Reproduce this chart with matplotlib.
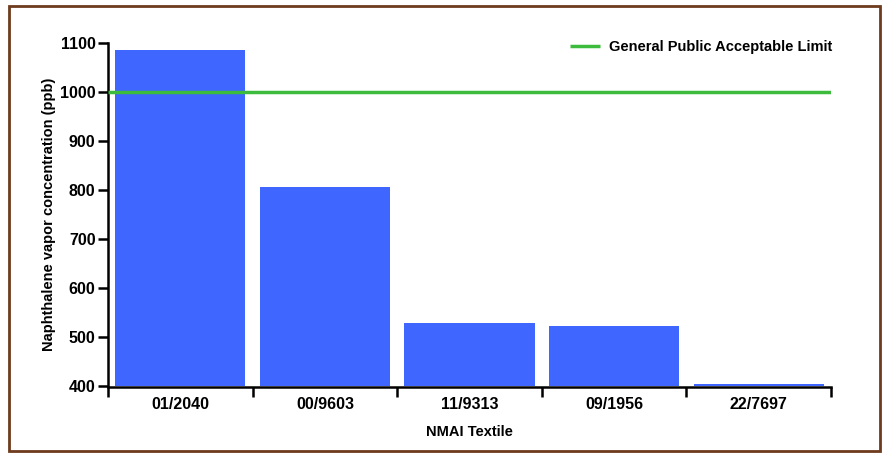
import matplotlib
matplotlib.use("Agg")
import matplotlib.pyplot as plt
from matplotlib.patches import Rectangle
from matplotlib.ticker import FixedLocator, NullFormatter, FixedFormatter

categories = ["01/2040", "00/9603", "11/9313", "09/1956", "22/7697"]
values = [1085, 806, 528, 522, 404]
limit_value = 1000
limit_label = "General Public Acceptable Limit"
y_ticks = [400, 500, 600, 700, 800, 900, 1000, 1100]

plt.rcParams['font.family'] = ['Liberation Sans', 'DejaVu Sans']
plt.rcParams['font.weight'] = 'bold'

fig = plt.figure(figsize=(8.84, 4.55), dpi=100)
ax = fig.add_axes([108/884, 1-386/455, (831-108)/884, (386-43)/455])

x = list(range(len(categories)))
ax.bar(x, values, width=0.9, color="#3F66FF", edgecolor="none", bottom=0,
       zorder=2)
ax.plot([-0.5, len(categories)-0.5], [limit_value]*2, color="#3DBB3D", lw=2.5,
        label=limit_label, zorder=3, solid_capstyle='butt')

ax.set_xlim(-0.5, len(categories)-0.5)
ax.set_ylim(400, 1100)
ax.set_yticks(y_ticks)
ax.set_yticklabels([str(t) for t in y_ticks])

# boundaries as major ticks, labels at minor positions
ax.xaxis.set_major_locator(FixedLocator([i - 0.5 for i in range(len(categories)+1)]))
ax.xaxis.set_major_formatter(NullFormatter())
ax.xaxis.set_minor_locator(FixedLocator(x))
ax.xaxis.set_minor_formatter(FixedFormatter(categories))
ax.tick_params(axis='x', which='major', length=7, width=1.8, direction='out')
ax.tick_params(axis='x', which='minor', length=0, pad=7, labelsize=11.5)
ax.tick_params(axis='y', length=7, width=1.8, direction='out', pad=2,
               labelsize=11.5)

for s in ['top', 'right']:
    ax.spines[s].set_visible(False)
for s in ['left', 'bottom']:
    ax.spines[s].set_linewidth(1.8)
ax.spines['bottom'].set_position(('outward', 1))

ax.set_xlabel("NMAI Textile", fontsize=10.5, fontweight='bold', labelpad=9)
ax.set_ylabel("Naphthalene vapor concentration (ppb)", fontsize=10.5,
              fontweight='bold', labelpad=3)

leg = ax.legend(loc='upper right', frameon=False, fontsize=10.5,
                handlelength=2.1, handletextpad=0.6, borderaxespad=0.2,
                bbox_to_anchor=(1.014, 1.035))
for t in leg.get_texts():
    t.set_fontweight('bold')

fig.patches.append(Rectangle((9/884, 1-451/455), (880-9)/884, (451-6)/455,
                             transform=fig.transFigure, fill=False,
                             edgecolor="#6E3B1E", lw=2))

fig.savefig("out.png", dpi=100)
